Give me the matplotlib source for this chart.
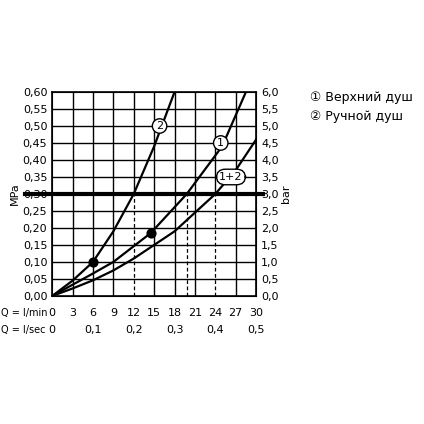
import matplotlib
matplotlib.use("Agg")
import matplotlib.pyplot as plt
import numpy as np

q2 = [0, 3, 6, 9, 12, 15, 18]
p2 = [0, 0.045, 0.10, 0.19, 0.30, 0.44, 0.60]
q1 = [0, 3, 6, 9, 14.5, 19.8, 25, 28.5]
p1 = [0, 0.033, 0.066, 0.10, 0.185, 0.30, 0.44, 0.60]
q12 = [0, 3, 6, 9, 12, 18, 24, 27, 30]
p12 = [0, 0.022, 0.046, 0.075, 0.11, 0.19, 0.30, 0.37, 0.46]
dots_q = [6, 14.5]
dots_p = [0.10, 0.185]
dash_q = [12, 19.8, 24]
xt_min = list(range(0, 31, 3))
xt_sec = ["0", "0,1", "0,2", "0,3", "0,4", "0,5"]
yt = np.arange(0, 0.601, 0.05)

fig = plt.figure(figsize=(4.24, 4.24), dpi=100)
ax = fig.add_axes([0.123, 0.302, 0.481, 0.481])
ax.set_xlim(0, 30); ax.set_ylim(0, 0.6)
ax.set_xticks(xt_min); ax.set_yticks(yt)
for x in xt_min[1:-1]:
    if x in dash_q:
        ax.plot([x, x], [0.3, 0.6], color="black", lw=1)
    else:
        ax.plot([x, x], [0, 0.6], color="black", lw=1)
for y in yt[1:-1]:
    ax.axhline(y, color="black", lw=1)
ax.tick_params(length=0, labelsize=8)
ax.tick_params(axis="x", pad=9)
ax.set_yticklabels([f"{v:.2f}".replace(".", ",") for v in yt])
ax.set_xticklabels([str(v) for v in xt_min])
for s in ax.spines.values(): s.set_linewidth(1.2)
for q, p in [(q2, p2), (q1, p1), (q12, p12)]:
    ax.plot(q, p, color="black", lw=1.6)
ax.scatter(dots_q, dots_p, s=40, color="black", zorder=5)
for q in dash_q:
    ax.plot([q, q], [0, 0.3], ls=(0, (3, 2)), color="black", lw=0.9)
ax.plot([-4, 31], [0.3, 0.3], color="black", lw=3, clip_on=False, zorder=6)
for txt, x, y in [("2", 15.8, 0.5), ("1", 24.8, 0.45), ("1+2", 26.3, 0.35)]:
    ax.text(x, y, txt, ha="center", va="center", fontsize=8, zorder=7,
            bbox=dict(boxstyle="circle,pad=0.2" if txt != "1+2" else "round,pad=0.25,rounding_size=0.8",
                      fc="white", ec="black", lw=1))
ax.set_ylabel("MPa", fontsize=8, labelpad=2)
ay = ax.twinx(); ay.set_ylim(0, 6); ay.set_yticks(np.arange(0, 6.01, 0.5))
ay.set_yticklabels([f"{v:.1f}".replace(".", ",") for v in np.arange(0, 6.01, 0.5)])
ay.tick_params(length=0, labelsize=8); ay.set_ylabel("bar", fontsize=8, labelpad=2)
for i, t in enumerate(xt_sec):
    ax.text(i * 6, -0.1, t, ha="center", va="center", fontsize=8)
fig.text(0.003, 0.262, "Q = l/min", ha="left", va="center", fontsize=7)
fig.text(0.003, 0.222, "Q = l/sec", ha="left", va="center", fontsize=7)
fig.text(0.73, 0.77, "① Верхний душ", fontsize=9, va="center")
fig.text(0.73, 0.725, "② Ручной душ", fontsize=9, va="center")
fig.savefig("out.png", dpi=100)
